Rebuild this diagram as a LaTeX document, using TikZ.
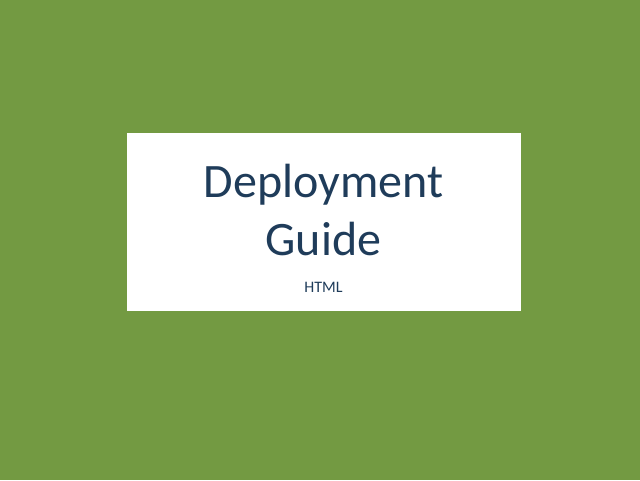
\documentclass[tikz,border=0pt]{standalone}
\usepackage{fontspec}
\setmainfont{Carlito}
\definecolor{leaf}{HTML}{739A42}
\definecolor{ink}{HTML}{1F3C5A}
\tikzset{
  title/.style={text=ink, font=\fontsize{48}{58.5}\selectfont, align=center, inner sep=0pt},
  subtitle/.style={text=ink, font=\fontsize{16}{19}\selectfont, inner sep=0pt},
}
\begin{document}
\begin{tikzpicture}[x=1pt,y=-1pt]
\fill[leaf] (0,0) rectangle (640,480);
\useasboundingbox (0,0) rectangle (640,480);
\fill[white] (126.5,133) rectangle (521,311);
%
\node[title, anchor=base] (head) at (323.5,197) {Deployment};
\node[title, anchor=base] (guide) at (323.5,255.5) {Guide};
\node[subtitle, anchor=base] (kind) at (323.5,292.7) {HTML};
\end{tikzpicture}
\end{document}
